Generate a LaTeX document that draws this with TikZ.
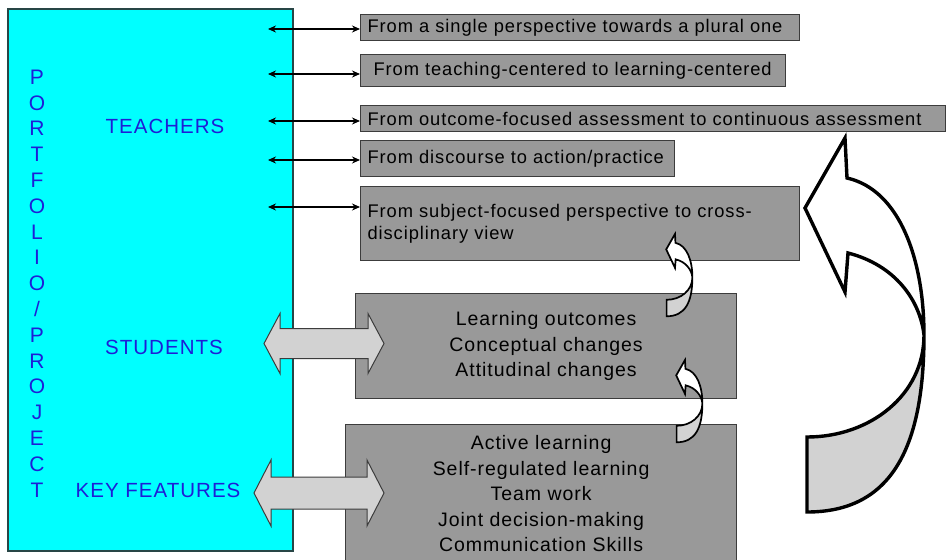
\documentclass[tikz,border=0pt]{standalone}
\usepackage{fontspec}
\setmainfont{Liberation Sans}[LetterSpace=5]
\usetikzlibrary{arrows.meta}

\definecolor{portcyan}{RGB}{0,255,255}
\definecolor{portblue}{RGB}{30,30,215}
\definecolor{cyanedge}{RGB}{40,70,70}
\definecolor{boxgray}{RGB}{153,153,153}
\definecolor{edgegray}{RGB}{60,60,60}
\definecolor{arrowgray}{RGB}{210,210,210}

\tikzset{
  rbox/.style={draw=edgegray, fill=boxgray, line width=1.2, anchor=north west,
    align=left, inner xsep=7, inner ysep=0, font=\fontsize{18.3}{22}\selectfont},
  cbox/.style={draw=edgegray, fill=boxgray, line width=1.2, anchor=north west,
    align=center, inner sep=0, font=\fontsize{19.5}{25.5}\selectfont},
  lbl/.style={text=portblue, font=\fontsize{20.5}{24}\selectfont},
  vlet/.style={text=portblue, font=\fontsize{21}{24}\selectfont, inner sep=0},
  pair/.style={{Stealth[length=8,width=7]}-{Stealth[length=8,width=7]}, line width=1.1},
  fatarrow/.style={draw=edgegray, fill=arrowgray, line width=1},
  turnarrow/.pic={
    \fill[white] (2,40) .. controls (55,52) and (79,122) .. (79,197)
      .. controls (79,312) and (45,374) .. (-38,374) -- (-38,299)
      .. controls (25,299) and (79,257) .. (79,197)
      .. controls (75,162) and (50,127) .. (3,115) -- (0,154) -- (-40,70) -- (0,0) -- cycle;
    \fill[arrowgray] (79,197) .. controls (79,312) and (45,374) .. (-38,374) -- (-38,299)
      .. controls (25,299) and (79,257) .. (79,197) -- cycle;
    \draw[line width=#1, line join=miter] (2,40) .. controls (55,52) and (79,122) .. (79,197)
      .. controls (79,312) and (45,374) .. (-38,374) -- (-38,299)
      .. controls (25,299) and (79,257) .. (79,197)
      .. controls (75,162) and (50,127) .. (3,115) -- (0,154) -- (-40,70) -- (0,0) -- cycle;
  }
}

\begin{document}
\begin{tikzpicture}[x=1pt, y=-1pt]
  \fill[white] (0,0) rectangle (946,560);
  \useasboundingbox (0,0) rectangle (946,560);

  % portfolio / project column
  \draw[fill=portcyan, draw=cyanedge, line width=1.2] (8,9) rectangle (293,551);
  \foreach \ch [count=\i] in {P,O,R,T,F,O,L,I,O,/,P,R,O,J,E,C,T}
    \node[vlet] (p\i) at (37, {77+25.8*(\i-1)}) {\ch};
  \node[lbl] (teachers) at (165,126) {TEACHERS};
  \node[lbl] (students) at (164,347) {STUDENTS};
  \node[lbl] (keyfeat) at (158,490) {KEY FEATURES};

  % teacher changes
  \node[rbox, text width=425, minimum height=26] (b1) at (360,14) {From a single perspective towards a plural one};
  \node[rbox, text width=411, minimum height=32] (b2) at (360,54) {\hspace{6pt}From teaching-centered to learning-centered};
  \node[rbox, text width=571, minimum height=26] (b3) at (360,105) {From outcome-focused assessment to continuous assessment};
  \node[rbox, text width=300, minimum height=36] (b4) at (360,140) {From discourse to action/practice};
  \node[rbox, text width=425, minimum height=74] (b5) at (360,186) {From subject-focused perspective to cross-\\disciplinary view};

  \foreach \k/\yy in {1/29, 2/74, 3/121, 4/160, 5/207} {
    \coordinate (a\k) at (268,\yy);
    \draw[pair] (a\k) -- (a\k -| b\k.west);
  }

  % students and key features
  \node[cbox, minimum width=381, minimum height=105] (out) at (355,293)
    {Learning outcomes\\Conceptual changes\\Attitudinal changes};
  \node[cbox, minimum width=391, minimum height=138] (feat) at (345,424)
    {Active learning\\Self-regulated learning\\Team work\\Joint decision-making\\Communication Skills};

  \foreach \ly/\lx/\hh/\sh/\hl in {343.5/264/30/15/16, 493/254/33/16/17}
    \draw[fatarrow] (\lx,\ly) -- ({\lx+\hl},{\ly-\hh}) -- ({\lx+\hl},{\ly-\sh})
      -- ({384-\hl},{\ly-\sh}) -- ({384-\hl},{\ly-\hh}) -- (384,\ly)
      -- ({384-\hl},{\ly+\hh}) -- ({384-\hl},{\ly+\sh}) -- ({\lx+\hl},{\ly+\sh})
      -- ({\lx+\hl},{\ly+\hh}) -- cycle;

  % turning arrows
  \pic[scale=.22] at (675,234) {turnarrow=1.7};
  \pic[scale=.22] at (685,360) {turnarrow=1.7};
  \pic at (845,138) {turnarrow=3.4};
\end{tikzpicture}
\end{document}
